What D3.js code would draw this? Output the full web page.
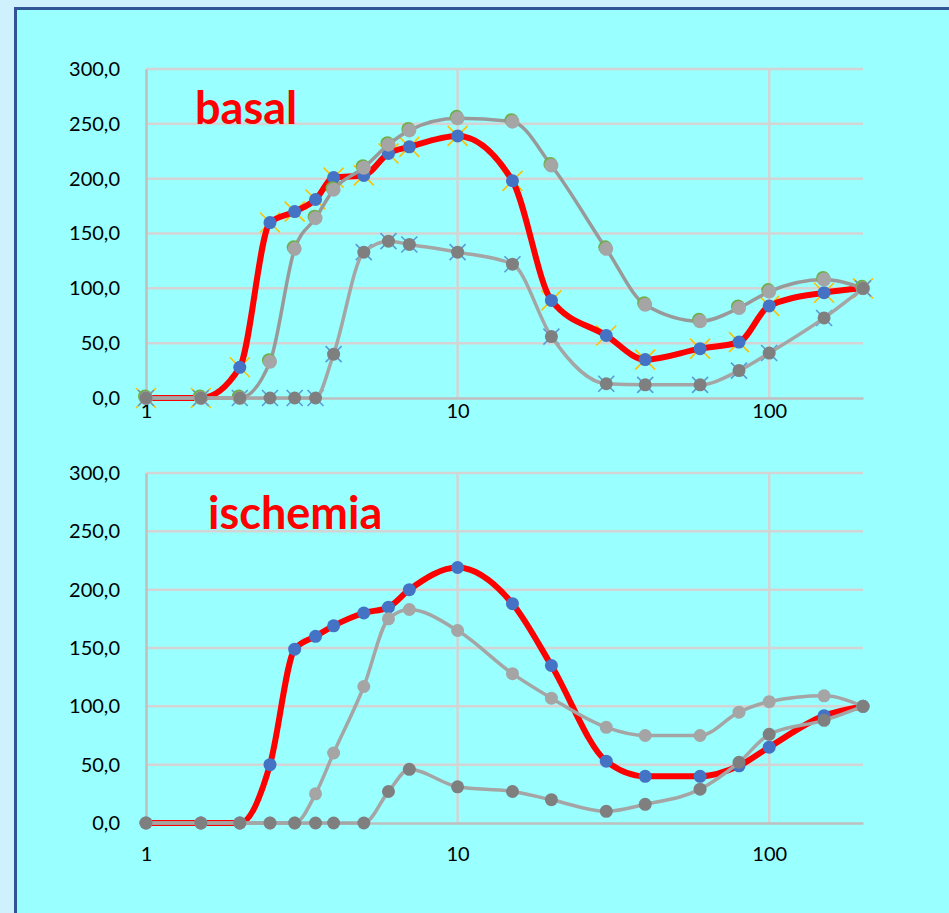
<!DOCTYPE html>
<html>
<head>
<meta charset="utf-8">
<script src="https://cdn.jsdelivr.net/npm/d3@7"></script>
<style>
  html, body { margin: 0; padding: 0; background: #cff1fd; }
  svg { display: block; }
  text { font-family: Lato, "Open Sans", sans-serif; }
</style>
</head>
<body>
<svg id="chart" width="949" height="913"></svg>
<script>
// Concentration steps (log axis)
const xs = [1, 1.5, 2, 2.5, 3, 3.5, 4, 5, 6, 7, 10, 15, 20, 30, 40, 60, 80, 100, 150, 200];

// basal panel
const basalRed   = [0, 0, 28, 160, 170, 181, 201, 203, 223, 229, 239, 198, 89, 57, 35, 45, 51, 84, 96, 100];
const basalLight = [0, 0, 0, 33, 136, 164, 190, 210, 231, 244, 255, 252, 212, 136, 85, 70, 82, 97, 108, 100];
const basalDark  = [0, 0, 0, 0, 0, 0, 40, 133, 143, 140, 133, 122, 56, 13, 12, 12, 25, 41, 73, 100];

// ischemia panel
const ischRed   = [0, 0, 0, 50, 149, 160, 169, 180, 185, 200, 219, 188, 135, 53, 40, 40, 49, 65, 92, 100];
const ischLight = [0, 0, 0, 0, 0, 25, 60, 117, 175, 183, 165, 128, 107, 82, 75, 75, 95, 104, 109, 100];
const ischDark  = [0, 0, 0, 0, 0, 0, 0, 0, 27, 46, 31, 27, 20, 10, 16, 29, 52, 76, 88, 100];

const yTicks = [0, 50, 100, 150, 200, 250, 300];
const xTicks = [1, 10, 100];

const svg = d3.select("#chart");

// frame
svg.append("rect").attr("x", 0).attr("y", 0).attr("width", 949).attr("height", 913).attr("fill", "#cff1fd");
svg.append("rect").attr("x", 15.5).attr("y", 8.5).attr("width", 960).attr("height", 940)
  .attr("fill", "#99ffff").attr("stroke", "#2f5597").attr("stroke-width", 3);

const fmt = d => d.toFixed(1).replace(".", ",");

function panel(cfg) {
  const x = d3.scaleLog().domain([1, 200]).range([146, 863]);
  const y = d3.scaleLinear().domain([0, 300]).range([cfg.bottom, cfg.top]);
  const g = svg.append("g");

  // horizontal grid
  g.append("g").selectAll("line").data(yTicks.filter(d => d > 0)).join("line")
    .attr("x1", x(1)).attr("x2", x(200))
    .attr("y1", d => y(d)).attr("y2", d => y(d))
    .attr("stroke", "#d4d4d4").attr("stroke-width", 2.5);
  // vertical grid
  g.append("g").selectAll("line").data([10, 100]).join("line")
    .attr("x1", d => x(d)).attr("x2", d => x(d))
    .attr("y1", y(0)).attr("y2", y(300))
    .attr("stroke", "#d4d4d4").attr("stroke-width", 2.5);

  // axes
  const ya = d3.axisLeft(y).tickValues(yTicks).tickFormat(fmt).tickSize(0).tickPadding(26);
  const yg = g.append("g").attr("transform", `translate(${x(1)},0)`).call(ya);
  yg.select(".domain").attr("stroke", "#bfbfbf").attr("stroke-width", 2.5);
  yg.selectAll("text").attr("font-size", 20).attr("fill", "#000");

  const xa = d3.axisBottom(x).tickValues(xTicks).tickFormat(d3.format("d")).tickSize(0).tickPadding(cfg.xPad);
  const xg = g.append("g").attr("transform", `translate(0,${y(0)})`).call(xa);
  xg.select(".domain").attr("stroke", "#bfbfbf").attr("stroke-width", 2.5);
  xg.selectAll("text").attr("font-size", 20).attr("fill", "#000");

  // title
  g.append("text").attr("x", cfg.titleX).attr("y", cfg.titleY)
    .attr("font-size", 45).attr("font-weight", "bold").attr("fill", "#ff0000")
    .text(cfg.title);

  const line = d3.line().x(d => x(d[0])).y(d => y(d[1])).curve(d3.curveMonotoneX);
  const pts = vals => xs.map((v, i) => [v, vals[i]]);

  // cross markers drawn underneath the series
  (cfg.crosses || []).forEach(c => {
    const cg = g.append("g");
    pts(c.vals).forEach(p => {
      const cx = x(p[0]), cy = y(p[1]), s = c.size;
      cg.append("path")
        .attr("d", `M${cx - s},${cy - s}L${cx + s},${cy + s}M${cx - s},${cy + s}L${cx + s},${cy - s}`)
        .attr("stroke", c.color).attr("stroke-width", 1.6);
    });
  });

  cfg.series.forEach(s => {
    const sg = g.append("g");
    sg.append("path").datum(pts(s.vals)).attr("d", line)
      .attr("fill", "none").attr("stroke", s.line).attr("stroke-width", s.width)
      .attr("stroke-linejoin", "round").attr("stroke-linecap", "round");
    if (s.ring) {
      sg.append("g").attr("transform", "translate(-1,-1.5)").selectAll("circle").data(pts(s.vals)).join("circle")
        .attr("cx", d => x(d[0])).attr("cy", d => y(d[1])).attr("r", s.r)
        .attr("fill", s.ring);
    }
    sg.append("g").selectAll("circle").data(pts(s.vals)).join("circle")
      .attr("cx", d => x(d[0])).attr("cy", d => y(d[1])).attr("r", s.r)
      .attr("fill", s.marker);
  });
}

panel({
  top: 69, bottom: 398, xPad: 6, title: "basal", titleX: 195, titleY: 124,
  crosses: [
    { vals: basalRed, color: "#ffc000", size: 10 },
    { vals: basalDark, color: "#5b9bd5", size: 8 }
  ],
  series: [
    { vals: basalRed, line: "#ff0000", width: 6, marker: "#4472c4", r: 6.5 },
    { vals: basalLight, line: "#999999", width: 3.5, marker: "#a5a5a5", r: 7, ring: "#70ad47" },
    { vals: basalDark, line: "#a5a5a5", width: 3.5, marker: "#7f7f7f", r: 6.5 }
  ]
});

panel({
  top: 473, bottom: 823, xPad: 24, title: "ischemia", titleX: 208, titleY: 529,
  series: [
    { vals: ischRed, line: "#ff0000", width: 6, marker: "#4472c4", r: 6.5 },
    { vals: ischLight, line: "#a5a5a5", width: 3.5, marker: "#a5a5a5", r: 6.5 },
    { vals: ischDark, line: "#a5a5a5", width: 3.5, marker: "#7f7f7f", r: 6.5 }
  ]
});
</script>
</body>
</html>
